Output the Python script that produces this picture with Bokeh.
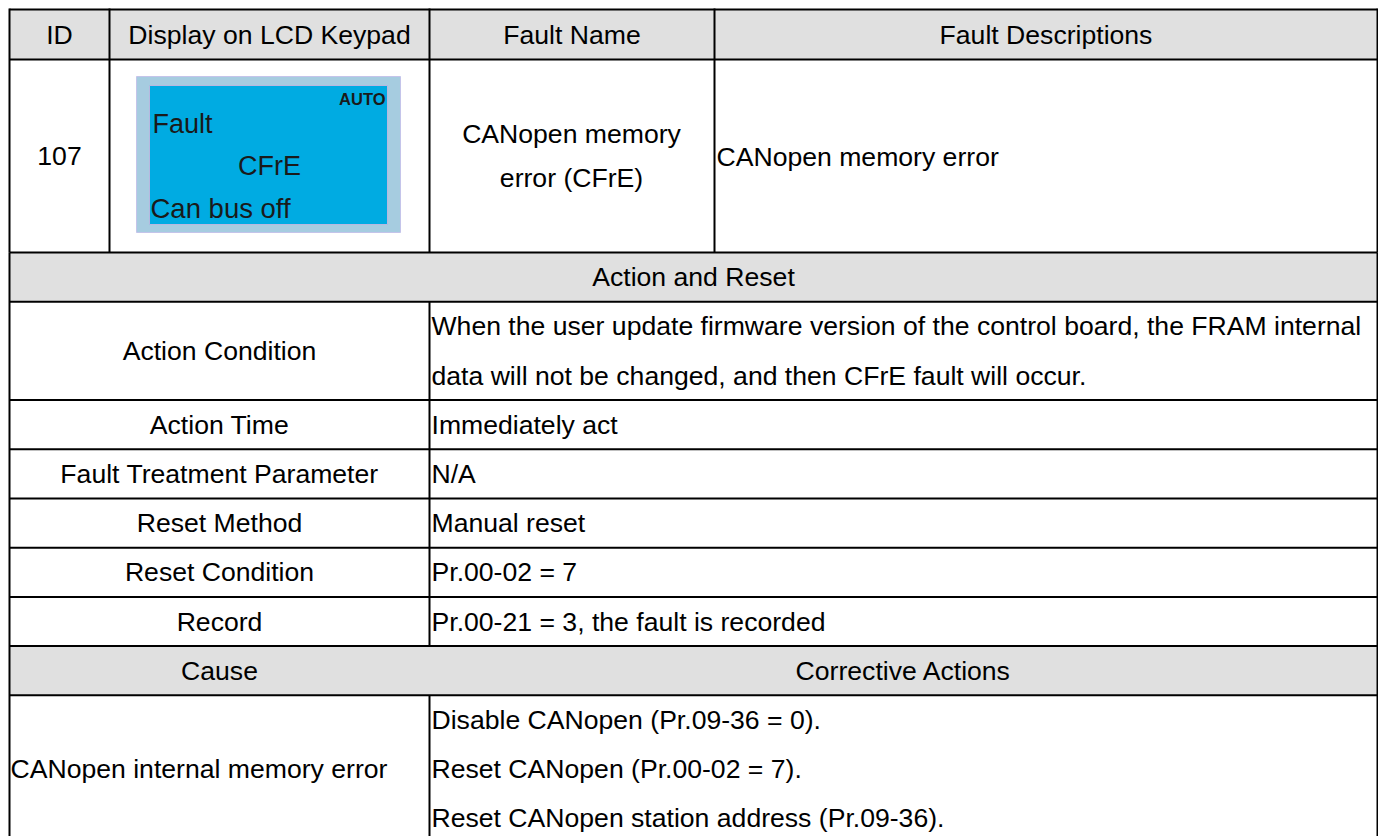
from bokeh.plotting import figure
from bokeh.models import Range1d
from bokeh.core.properties import value
from bokeh.embed import file_html
from bokeh.resources import INLINE

# ---------------- data (cell texts) ----------------
header_labels = ["ID", "Display on LCD Keypad", "Fault Name", "Fault Descriptions"]
fault_id = "107"
lcd_status = "AUTO"
lcd_lines = ["Fault", "CFrE", "Can bus off"]
fault_name_lines = ["CANopen memory", "error (CFrE)"]
fault_description = "CANopen memory error"
section_title = "Action and Reset"
action_labels = ["Action Condition", "Action Time", "Fault Treatment Parameter",
                 "Reset Method", "Reset Condition", "Record"]
action_values = [
    ["When the user update firmware version of the control board, the FRAM internal",
     "data will not be changed, and then CFrE fault will occur."],
    ["Immediately act"],
    ["N/A"],
    ["Manual reset"],
    ["Pr.00-02 = 7"],
    ["Pr.00-21 = 3, the fault is recorded"],
]
cause_headers = ["Cause", "Corrective Actions"]
cause_text = "CANopen internal memory error"
corrective_actions = ["Disable CANopen (Pr.09-36 = 0).",
                      "Reset CANopen (Pr.00-02 = 7).",
                      "Reset CANopen station address (Pr.09-36)."]

# ---------------- layout (page pixel coordinates) ----------------
W, H = 1378, 836
X0, X1 = 9, 1377
COL = [9, 109, 429, 714, 1377]   # top part column edges
SPLIT = 429                      # lower part split
LINE_H = 49.2
TOP = 9
HEADER_H = 50
FAULT_ROW_H = 193
FONT = value("Liberation Sans")
FS = "26.6px"
GRAY = "#e0e0e0"
DY = 0.0

p = figure(width=W, height=H, output_backend="svg", toolbar_location=None,
           x_range=Range1d(0, W), y_range=Range1d(H, 0),
           min_border=0, outline_line_color=None)
p.xaxis.visible = False
p.yaxis.visible = False
p.grid.visible = False
p.background_fill_color = "white"
p.border_fill_color = "white"

# row boundaries
y_header_top = TOP
y_header_bot = TOP + HEADER_H
y_fault_bot = y_header_bot + FAULT_ROW_H
y_sec_bot = y_fault_bot + LINE_H
row_edges = [y_sec_bot]
for vals in action_values:
    row_edges.append(row_edges[-1] + LINE_H * len(vals))
y_cause_head_top = row_edges[-1]
y_cause_head_bot = y_cause_head_top + LINE_H
y_cause_bot = y_cause_head_bot + LINE_H * len(corrective_actions)

# gray backgrounds
gray_rows = [(y_header_top, y_header_bot), (y_fault_bot, y_sec_bot),
             (y_cause_head_top, y_cause_head_bot)]
p.quad(left=[X0] * 3, right=[X1] * 3,
       top=[r[0] for r in gray_rows], bottom=[r[1] for r in gray_rows],
       fill_color=GRAY, line_color=None)

# LCD keypad picture
lcd_outer = dict(l=136, r=400, t=76, b=232)
lcd_inner = dict(l=149, r=387, t=85, b=224)
p.quad(left=[lcd_outer["l"]], right=[lcd_outer["r"]], top=[lcd_outer["t"]], bottom=[lcd_outer["b"]],
       fill_color="#a6cce0", line_color="#c4c4ea", line_width=1)
p.quad(left=[lcd_inner["l"]], right=[lcd_inner["r"]], top=[lcd_inner["t"]], bottom=[lcd_inner["b"]],
       fill_color="#00abe2", line_color="#b8b8e0", line_width=1)

# grid lines
hx0, hx1, hy = [], [], []
for y in [y_header_top, y_header_bot, y_fault_bot, y_sec_bot] + row_edges[1:] + [y_cause_head_bot, y_cause_bot]:
    hx0.append(X0); hx1.append(X1); hy.append(y)
p.segment(x0=hx0, y0=hy, x1=hx1, y1=hy, line_color="black", line_width=2)

vx, vy0, vy1 = [], [], []
for x in COL:
    vx.append(x); vy0.append(y_header_top - 1); vy1.append(y_fault_bot)
vx += [X0, X1]; vy0 += [y_fault_bot] * 2; vy1 += [y_cause_bot] * 2
vx += [SPLIT, SPLIT]; vy0 += [y_sec_bot, y_cause_head_bot]; vy1 += [y_cause_head_top, y_cause_bot]
p.segment(x0=vx, y0=vy0, x1=vx, y1=vy1, line_color="black", line_width=2)

# ---------------- texts ----------------
cx, cy, ct = [], [], []   # centered texts
lx, ly, lt = [], [], []   # left aligned texts


def add_c(x, y, t):
    cx.append(x); cy.append(y + DY); ct.append(t)


def add_l(x, y, t):
    lx.append(x); ly.append(y + DY); lt.append(t)


hc = (y_header_top + y_header_bot) / 2
for i, lab in enumerate(header_labels):
    add_c((COL[i] + COL[i + 1]) / 2, hc, lab)

fc = (y_header_bot + y_fault_bot) / 2
add_c((COL[0] + COL[1]) / 2, fc, fault_id)
n = len(fault_name_lines)
for i, t in enumerate(fault_name_lines):
    add_c((COL[2] + COL[3]) / 2 - 0.5, fc + (i - (n - 1) / 2) * 44 - 0.5, t)
add_l(COL[3] + 2, fc + 1, fault_description)

add_c((X0 + X1) / 2, (y_fault_bot + y_sec_bot) / 2, section_title)

for i, (lab, vals) in enumerate(zip(action_labels, action_values)):
    top, bot = row_edges[i], row_edges[i + 1]
    add_c((X0 + SPLIT) / 2, (top + bot) / 2, lab)
    for j, v in enumerate(vals):
        add_l(SPLIT + 2, top + LINE_H * (j + 0.5), v)

add_c((X0 + SPLIT) / 2, (y_cause_head_top + y_cause_head_bot) / 2, cause_headers[0])
add_c((SPLIT + X1) / 2, (y_cause_head_top + y_cause_head_bot) / 2, cause_headers[1])
add_l(X0 + 1, (y_cause_head_bot + y_cause_bot) / 2, cause_text)
for j, v in enumerate(corrective_actions):
    add_l(SPLIT + 2, y_cause_head_bot + LINE_H * (j + 0.5), v)

p.text(x=cx, y=cy, text=ct, text_font=FONT, text_font_size=FS, text_color="black",
       text_align="center", text_baseline="middle")
p.text(x=lx, y=ly, text=lt, text_font=FONT, text_font_size=FS, text_color="black",
       text_align="left", text_baseline="middle")

# LCD texts
p.text(x=[lcd_inner["r"] - 2], y=[98], text=[lcd_status], text_font=FONT, text_font_size="16.5px",
       text_font_style="bold", text_color="#1a1a1a", text_align="right", text_baseline="middle")
lcd_x = [lcd_inner["l"] + 3, (lcd_inner["l"] + lcd_inner["r"]) / 2 + 1, lcd_inner["l"] + 1]
lcd_y = [123.5, 165.5, 207.5]
lcd_align = ["left", "center", "left"]
lcd_size = ["27px", "27px", "27.5px"]
for x, y, t, a, s in zip(lcd_x, lcd_y, lcd_lines, lcd_align, lcd_size):
    p.text(x=[x], y=[y], text=[t], text_font=FONT, text_font_size=s,
           text_color="#1a1a1a", text_align=a, text_baseline="middle")

open("out.html", "w").write(file_html(p, INLINE))
